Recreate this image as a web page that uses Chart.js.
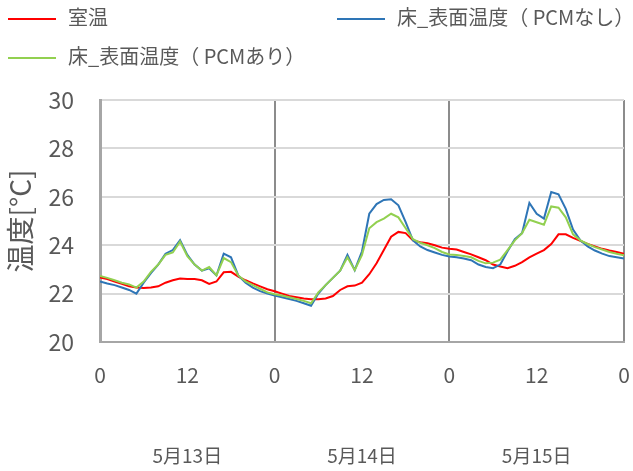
<!DOCTYPE html>
<html><head><meta charset="utf-8">
<script src="https://cdn.jsdelivr.net/npm/chart.js@4"></script>
<style>
html,body{margin:0;padding:0;background:#fff;}
#wrap{position:relative;width:633px;height:471px;overflow:hidden;}
#c{position:absolute;left:0;top:0;}
.lg{position:absolute;font-family:'Noto Sans CJK JP',sans-serif;font-size:20px;color:#595959;white-space:nowrap;height:24px;line-height:24px;}
.lg .sw{display:inline-block;width:48px;height:2px;vertical-align:middle;margin-right:12px;position:relative;top:-1px;}
</style></head>
<body>
<div id="wrap"><canvas id="c" width="633" height="471"></canvas></div>
<script>
const hours = [0,1,2,3,4,5,6,7,8,9,10,11,12,13,14,15,16,17,18,19,20,21,22,23,
  24,25,26,27,28,29,30,31,32,33,34,35,36,37,38,39,40,41,42,43,44,45,46,47,
  48,49,50,51,52,53,54,55,56,57,58,59,60,61,62,63,64,65,66,67,68,69,70,71,72];
const xTickLabels = ['0','12','0','12','0','12','0'];
const dateLabels = ['5月13日','5月14日','5月15日'];
const seriesNames = ['室温','床_表面温度（ PCMなし）','床_表面温度（ PCMあり）'];
const roomTemp = [22.67,22.6,22.5,22.4,22.3,22.25,22.23,22.25,22.3,22.45,22.55,22.62,22.6,22.6,22.55,22.4,22.5,22.88,22.9,22.7,22.55,22.42,22.3,22.18,
  22.1,22.0,21.9,21.85,21.8,21.77,21.77,21.8,21.9,22.15,22.3,22.33,22.45,22.8,23.25,23.8,24.35,24.55,24.5,24.2,24.12,24.08,24.0,23.9,
  23.85,23.82,23.72,23.62,23.5,23.38,23.2,23.12,23.05,23.15,23.3,23.5,23.65,23.8,24.05,24.45,24.45,24.3,24.18,24.05,23.95,23.85,23.78,23.72,23.65];
const floorNoPCM = [22.5,22.42,22.35,22.25,22.15,22.0,22.45,22.85,23.2,23.65,23.8,24.21,23.6,23.2,22.95,23.05,22.75,23.65,23.5,22.75,22.45,22.25,22.1,22.0,
  21.92,21.85,21.78,21.7,21.6,21.5,22.0,22.35,22.65,22.95,23.6,22.97,23.75,25.3,25.7,25.87,25.9,25.65,24.95,24.2,23.95,23.8,23.7,23.6,
  23.53,23.5,23.45,23.38,23.2,23.1,23.05,23.2,23.75,24.25,24.5,25.75,25.3,25.1,26.2,26.1,25.5,24.65,24.2,23.95,23.78,23.65,23.55,23.5,23.45];
const floorPCM = [22.73,22.65,22.55,22.45,22.38,22.25,22.5,22.9,23.2,23.6,23.7,24.15,23.55,23.2,22.95,23.1,22.75,23.47,23.3,22.75,22.5,22.35,22.2,22.05,
  21.97,21.92,21.85,21.78,21.7,21.6,22.05,22.35,22.65,22.95,23.5,22.97,23.6,24.7,24.95,25.1,25.3,25.15,24.7,24.25,24.1,24.0,23.88,23.72,
  23.62,23.6,23.55,23.5,23.35,23.25,23.28,23.4,23.8,24.2,24.5,25.05,24.95,24.85,25.6,25.55,25.15,24.45,24.2,24.05,23.92,23.82,23.72,23.65,23.58];
const yTicks = [20,22,24,26,28,30];

const colors = ['#ff0000','#2e75b6','#92d050'];
const seriesData = [roomTemp, floorNoPCM, floorPCM];
const FONT = "'Noto Sans CJK JP', sans-serif";
const TXT = '#595959';

const datasets = seriesData.map((arr, i) => ({
  label: seriesNames[i],
  data: arr.map((v, k) => ({x: hours[k], y: v})),
  borderColor: colors[i],
  backgroundColor: colors[i],
  borderWidth: 2,
  pointRadius: 0,
  tension: 0,
  order: 3 - i
}));

const legendPos = [[8,5],[337,5],[8,44]];
const wrap = document.getElementById('wrap');
seriesNames.forEach((n, i) => {
  const d = document.createElement('div');
  d.className = 'lg';
  d.style.left = legendPos[i][0] + 'px';
  d.style.top = legendPos[i][1] + 'px';
  d.innerHTML = '<span class="sw" style="background:' + colors[i] + '"></span>' + n;
  wrap.appendChild(d);
});

new Chart(document.getElementById('c'), {
  type: 'line',
  data: { datasets },
  options: {
    responsive: false,
    animation: false,
    layout: { padding: { top: 100, right: 9, bottom: 0, left: 0 } },
    plugins: { legend: { display: false }, tooltip: { enabled: false } },
    scales: {
      x: {
        type: 'linear', min: 0, max: 72, weight: 0,
        afterBuildTicks: s => { s.ticks = [0,12,24,36,48,60,72].map(v => ({value: v})); },
        afterFit: s => { s.height = 43; s.paddingLeft = 0; s.paddingRight = 0; },
        ticks: {
          callback: (v, i) => xTickLabels[i],
          font: { family: FONT, size: 21 }, color: TXT, padding: 20, maxRotation: 0, autoSkip: false
        },
        grid: {
          drawTicks: false,
          color: c => (c.tick && c.tick.value % 24 === 0) ? '#8c8c8c' : 'rgba(0,0,0,0)',
          lineWidth: 2
        },
        border: { display: true, color: '#a6a6a6', width: 2 }
      },
      xDate: {
        type: 'category', labels: dateLabels, position: 'bottom', offset: true, weight: 1,
        afterFit: s => { s.height = 86; s.paddingLeft = 0; s.paddingRight = 0; },
        grid: { display: false, drawTicks: false }, border: { display: false },
        ticks: { font: { family: FONT, size: 19 }, color: TXT, padding: 59, maxRotation: 0 }
      },
      y: {
        min: 20, max: 30,
        afterBuildTicks: s => { s.ticks = yTicks.map(v => ({value: v})); },
        afterFit: s => { s.width = 100; s.paddingTop = 0; s.paddingBottom = 0; },
        ticks: { font: { family: FONT, size: 23 }, color: TXT, padding: 26 },
        grid: { drawTicks: false, color: '#d9d9d9', lineWidth: 2 },
        border: { display: true, color: '#a6a6a6', width: 3 },
        title: { display: true, text: '温度[°C]', font: { family: FONT, size: 28 }, color: TXT, padding: { top: 4, bottom: 0 } }
      }
    }
  }
});
</script>
</body></html>
